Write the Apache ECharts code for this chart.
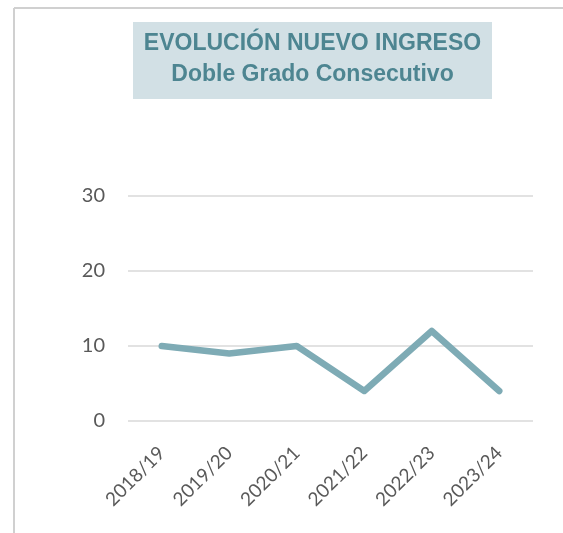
<!DOCTYPE html>
<html>
<head>
<meta charset="utf-8">
<script src="https://cdn.jsdelivr.net/npm/echarts@6/dist/echarts.min.js"></script>
<style>
html,body{margin:0;padding:0;background:#fff;}
#chart{width:563px;height:533px;}
</style>
</head>
<body>
<div id="chart"></div>
<script>
const titleLines = ['EVOLUCIÓN NUEVO INGRESO', 'Doble Grado Consecutivo'];
const categories = ['2018/19', '2019/20', '2020/21', '2021/22', '2022/23', '2023/24'];
const values = [10, 9, 10, 4, 12, 4];
const yTicks = { min: 0, max: 30, interval: 10 };

const titleFont = {
  fontFamily: 'Liberation Sans, Arial, sans-serif',
  fontSize: 23,
  fontWeight: 'bold',
  fill: '#4d8591'
};

const chart = echarts.init(document.getElementById('chart'), null, { renderer: 'canvas' });
chart.setOption({
  animation: false,
  backgroundColor: '#ffffff',
  graphic: [
    { type: 'line', shape: { x1: 14, y1: 8, x2: 563, y2: 8 }, style: { stroke: '#d0d0d0', lineWidth: 2 }, silent: true },
    { type: 'line', shape: { x1: 14, y1: 8, x2: 14, y2: 533 }, style: { stroke: '#d0d0d0', lineWidth: 2 }, silent: true },
    { type: 'rect', shape: { x: 133, y: 22, width: 359, height: 77 }, style: { fill: '#d2e0e5' }, silent: true },
    { type: 'text', x: 312.5, y: 44, style: Object.assign({ text: titleLines[0], textAlign: 'center', textVerticalAlign: 'middle' }, titleFont), silent: true },
    { type: 'text', x: 312.5, y: 75, style: Object.assign({ text: titleLines[1], textAlign: 'center', textVerticalAlign: 'middle' }, titleFont), silent: true }
  ],
  grid: { left: 128, right: 30, top: 196, bottom: 112, containLabel: false },
  xAxis: {
    type: 'category',
    data: categories,
    boundaryGap: true,
    axisLine: { show: false },
    axisTick: { show: false },
    axisLabel: {
      rotate: 45,
      margin: 29,
      fontFamily: 'Lato, sans-serif',
      fontSize: 19,
      color: '#595959',
      interval: 0
    }
  },
  yAxis: {
    type: 'value',
    min: yTicks.min,
    max: yTicks.max,
    interval: yTicks.interval,
    axisLine: { show: false },
    axisTick: { show: false },
    axisLabel: {
      margin: 23,
      fontFamily: 'Lato, sans-serif',
      fontSize: 20,
      color: '#595959'
    },
    splitLine: { lineStyle: { color: '#d9d9d9', width: 1.5 } }
  },
  series: [{
    type: 'line',
    data: values,
    showSymbol: false,
    symbol: 'none',
    lineStyle: { color: '#7eabb5', width: 6.5, cap: 'round', join: 'round' }
  }]
});
</script>
</body>
</html>
